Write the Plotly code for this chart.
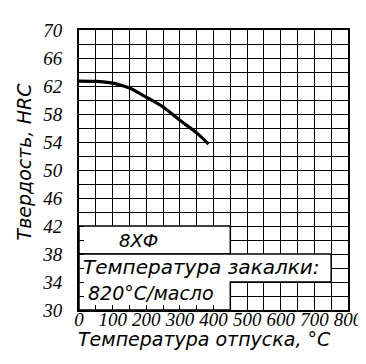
import plotly.graph_objects as go

# Data
temp_c = [0, 50, 100, 125, 150, 175, 200, 250, 300, 350, 385]
hrc = [62.7, 62.65, 62.4, 62.1, 61.7, 61.1, 60.4, 59.0, 57.1, 55.3, 53.7]

x_ticks = [0, 100, 200, 300, 400, 500, 600, 700, 800]
y_ticks = [30, 34, 38, 42, 46, 50, 54, 58, 62, 66, 70]

steel = "8ХФ"
quench_title = "Температура закалки:"
quench_value = "820°С/масло"
x_title = "Температура отпуска, °С"
y_title = "Твердость, HRC"

# white label boxes (data coordinates)
box_top_x = [0, 450, 450, 0, 0]
box_top_y = [38, 38, 42, 42, 38]
box_low_x = [0, 450, 450, 750, 750, 0, 0]
box_low_y = [30, 30, 34, 34, 38, 38, 30]

TXT = "DejaVu Sans"
NUM = "Liberation Sans Narrow"

fig = go.Figure()
fig.add_trace(go.Scatter(x=box_top_x, y=box_top_y, mode="lines", fill="toself",
                         fillcolor="white", line=dict(color="black", width=1.5),
                         hoverinfo="skip", showlegend=False))
fig.add_trace(go.Scatter(x=box_low_x, y=box_low_y, mode="lines", fill="toself",
                         fillcolor="white", line=dict(color="black", width=1.5),
                         hoverinfo="skip", showlegend=False))
fig.add_trace(go.Scatter(x=temp_c, y=hrc, mode="lines",
                         line=dict(color="black", width=3.2, shape="spline"),
                         showlegend=False))

fig.add_annotation(x=178, y=40, text=steel, showarrow=False,
                   font=dict(family=TXT, size=18, color="black", style="italic"))
fig.add_annotation(x=364, y=36.1, text=quench_title, showarrow=False,
                   font=dict(family=TXT, size=20, color="black", style="italic"))
fig.add_annotation(x=214, y=32.4, text=quench_value, showarrow=False,
                   font=dict(family=TXT, size=19, color="black", style="italic"))

# axis titles
fig.add_annotation(xref="paper", yref="paper", x=0.465, y=-0.105, yanchor="middle",
                   text=x_title, showarrow=False,
                   font=dict(family=TXT, size=19, color="black", style="italic"))
fig.add_annotation(xref="paper", yref="paper", x=-0.205, y=0.53, xanchor="center",
                   textangle=-90, text=y_title, showarrow=False,
                   font=dict(family=TXT, size=19, color="black", style="italic"))

axis_common = dict(showline=True, linecolor="black", linewidth=2, mirror=True,
                   showgrid=True, gridcolor="black", gridwidth=1.4,
                   ticks="inside", ticklen=5, tickcolor="black", tickwidth=1.4,
                   zeroline=False,
                   tickfont=dict(family=NUM, size=19, color="black", style="italic"))

fig.update_xaxes(range=[0, 800], tickvals=x_ticks,
                 minor=dict(dtick=50, tick0=0, showgrid=True, gridcolor="black",
                            gridwidth=1.4, ticks="inside", ticklen=5,
                            tickcolor="black"),
                 ticklabelstandoff=-9,
                 **axis_common)
fig.update_yaxes(range=[30, 70], tickvals=y_ticks,
                 minor=dict(dtick=2, tick0=30, showgrid=True, gridcolor="black",
                            gridwidth=1.4, ticks="inside", ticklen=5,
                            tickcolor="black"),
                 ticklabelstandoff=11,
                 **axis_common)

fig.update_layout(width=366, height=364,
                  margin=dict(l=71, r=26, t=22, b=62),
                  plot_bgcolor="white", paper_bgcolor="white")

fig.write_html("out.html")
